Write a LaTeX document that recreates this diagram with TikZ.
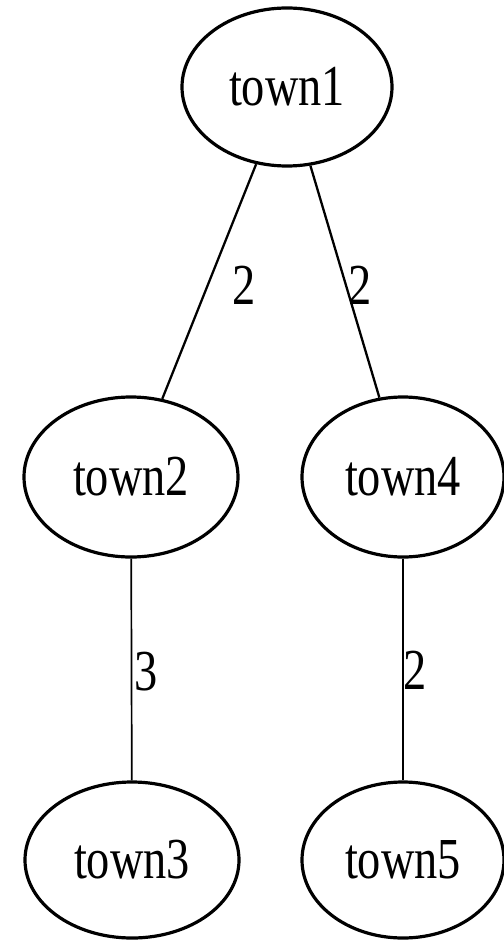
\documentclass[tikz,border=0pt]{standalone}
\usepackage{fontspec}
\setmainfont{Liberation Serif}
\usetikzlibrary{shapes.geometric}
\begin{document}
\begin{tikzpicture}[x=1pt,y=-1pt,
  town/.style={ellipse,draw,line width=3.2pt,inner sep=0pt,
    minimum width=210pt,minimum height=158pt,
    font=\fontsize{58}{60}\selectfont},
  edge/.style={line width=2.3pt},
  weight/.style={inner sep=0pt,font=\fontsize{58}{60}\selectfont}]
\useasboundingbox (0,0) rectangle (503,941);
\newcommand{\squeeze}[1]{\scalebox{0.8}[1]{#1}}

% vertices of the tree
\node[town] (t1) at (287,87) {\squeeze{town1}};
\node[town,minimum width=214pt,minimum height=160pt] (t2) at (131,477) {\squeeze{town2}};
\node[town,minimum width=202pt,minimum height=160pt] (t4) at (403,477) {\squeeze{town4}};
\node[town,minimum width=214pt,minimum height=156pt] (t3) at (132,860) {\squeeze{town3}};
\node[town,minimum width=202pt,minimum height=156pt] (t5) at (403,860) {\squeeze{town5}};

% weighted edges
\draw[edge] (t1) -- (t2);
\draw[edge] (t1) -- (t4);
\draw[edge,line width=1.7pt] (t2) -- (t3);
\draw[edge,line width=1.7pt] (t4) -- (t5);

% edge weights
\node[weight] (w12) at (244,285) {\squeeze{2}};
\node[weight] (w14) at (360,285) {\squeeze{2}};
\node[weight] (w23) at (146,672) {\squeeze{3}};
\node[weight] (w45) at (415,670) {\squeeze{2}};
\end{tikzpicture}
\end{document}
